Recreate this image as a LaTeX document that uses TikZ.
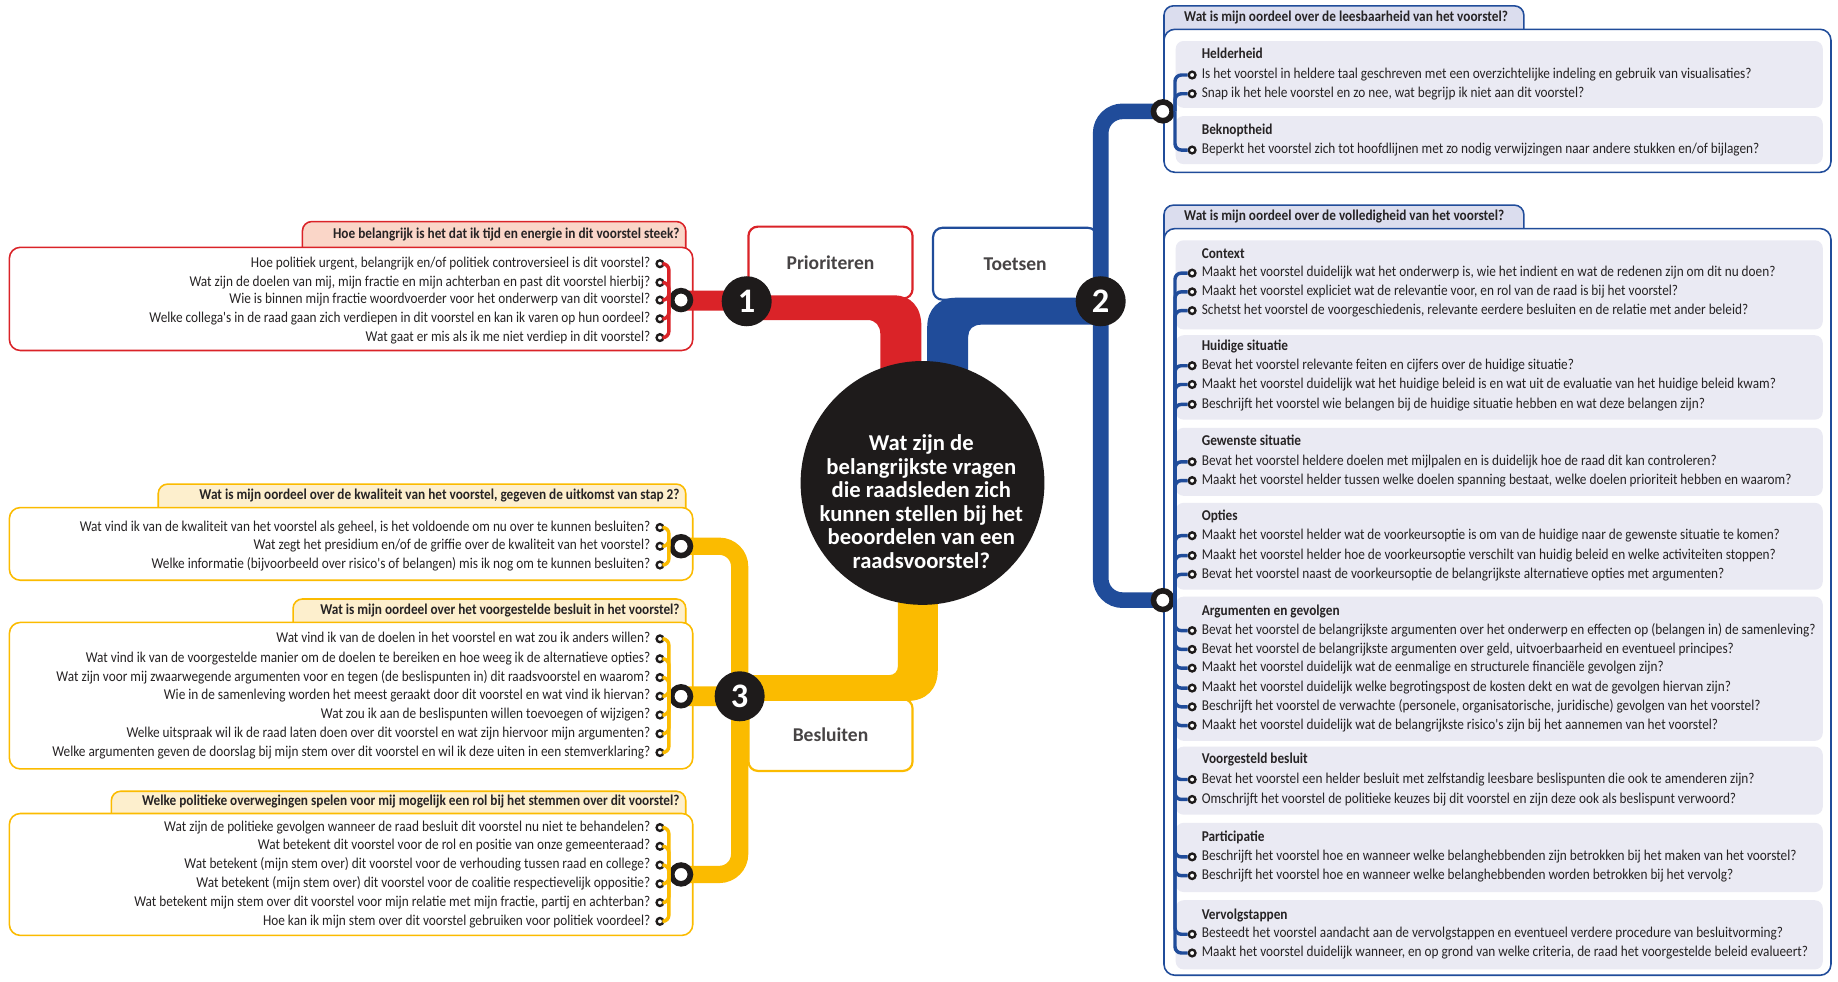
\documentclass[tikz,border=0pt]{standalone}
\usepackage{fontspec}
\setmainfont{Carlito}
\newfontfamily\smalfont[FakeStretch=0.885]{Carlito}
\usepackage{xcolor}

\definecolor{rood}{RGB}{218,35,40}
\definecolor{roodtab}{RGB}{250,214,200}
\definecolor{blauw}{RGB}{32,76,154}
\definecolor{blauwtab}{RGB}{219,221,238}
\definecolor{vakgrijs}{RGB}{234,234,243}
\definecolor{geel}{RGB}{251,187,0}
\definecolor{geeltab}{RGB}{253,239,205}
\definecolor{zwart}{RGB}{30,27,27}
\definecolor{tekst}{RGB}{38,35,36}

\tikzset{
  vraag/.style={inner sep=0pt, text height=6.7pt, text depth=2pt, text=tekst, font=\smalfont\fontsize{9.6}{10}\selectfont},
  kop/.style={vraag, font=\smalfont\bfseries\fontsize{9.6}{10}\selectfont},
  kopvak/.style={draw=#1, fill=#1tab, line width=1pt, rounded corners=6pt},
  kader/.style={draw=#1, fill=white, line width=1pt, rounded corners=7pt},
  subvak/.style={fill=vakgrijs, rounded corners=5pt},
  bol/.style={circle, draw=zwart, fill=white, line width=1.5pt, minimum size=4.3pt, inner sep=0pt},
  ring/.style={circle, draw=zwart, fill=white, line width=3.6pt, minimum size=12pt, inner sep=0pt},
  lijntje/.style={draw=#1, line width=2.2pt, rounded corners=4pt},
  nummer/.style={circle, fill=zwart, text=white, minimum size=32pt, inner sep=0pt, font=\bfseries\fontsize{22}{22}\selectfont},
  stap/.style={draw=#1, fill=white, line width=1.4pt, rounded corners=6pt, minimum width=105pt, minimum height=46pt, text=tekst!85, font=\bfseries\fontsize{12.5}{13}\selectfont},
}

\begin{document}
\begin{tikzpicture}[x=0.75pt,y=0.75pt,yscale=-1,xscale=1]
\useasboundingbox (0,0) rectangle (1568,837);

%Shape: Prioriteren vragen
\filldraw[kopvak=rood] (258,222) -- (258,189) -- (585,189) -- (585,222);
\draw[kader=rood] (8,211) rectangle (591,299);
% Text Node
\node[kop, anchor=east] (pkop) at (580,200) {Hoe belangrijk is het dat ik tijd en energie in dit voorstel steek?};
\foreach \y/\t [count=\i] in {
  225/{Hoe politiek urgent, belangrijk en/of politiek controversieel is dit voorstel?},
  241/{Wat zijn de doelen van mij, mijn fractie en mijn achterban en past dit voorstel hierbij?},
  256/{Wie is binnen mijn fractie woordvoerder voor het onderwerp van dit voorstel?},
  272/{Welke collega's in de raad gaan zich verdiepen in dit voorstel en kan ik varen op hun oordeel?},
  288/{Wat gaat er mis als ik me niet verdiep in dit voorstel?}}{
  \node[vraag, anchor=east] (p\i) at (555,\y) {\t};
  \node[bol] (pb\i) at (563,\y) {};
}

%Shape: Besluiten vragen, kwaliteit
\filldraw[kopvak=geel] (135,444) -- (135,413) -- (585,413) -- (585,444);
\draw[kader=geel] (8,433) rectangle (591,495);
\node[kop, anchor=east] (kkop) at (580,423) {Wat is mijn oordeel over de kwaliteit van het voorstel, gegeven de uitkomst van stap 2?};
\foreach \y/\t [count=\i] in {
  450/{Wat vind ik van de kwaliteit van het voorstel als geheel, is het voldoende om nu over te kunnen besluiten?},
  466/{Wat zegt het presidium en/of de griffie over de kwaliteit van het voorstel?},
  482/{Welke informatie (bijvoorbeeld over risico's of belangen) mis ik nog om te kunnen besluiten?}}{
  \node[vraag, anchor=east] (k\i) at (555,\y) {\t};
  \node[bol] (kb\i) at (563,\y) {};
}

%Shape: Besluiten vragen, voorgestelde besluit
\filldraw[kopvak=geel] (250,542) -- (250,511) -- (585,511) -- (585,542);
\draw[kader=geel] (8,531) rectangle (591,656);
\node[kop, anchor=east] (bkop) at (580,521) {Wat is mijn oordeel over het voorgestelde besluit in het voorstel?};
\foreach \y/\t [count=\i] in {
  545/{Wat vind ik van de doelen in het voorstel en wat zou ik anders willen?},
  562/{Wat vind ik van de voorgestelde manier om de doelen te bereiken en hoe weeg ik de alternatieve opties?},
  578/{Wat zijn voor mij zwaarwegende argumenten voor en tegen (de beslispunten in) dit raadsvoorstel en waarom?},
  594/{Wie in de samenleving worden het meest geraakt door dit voorstel en wat vind ik hiervan?},
  610/{Wat zou ik aan de beslispunten willen toevoegen of wijzigen?},
  626/{Welke uitspraak wil ik de raad laten doen over dit voorstel en wat zijn hiervoor mijn argumenten?},
  642/{Welke argumenten geven de doorslag bij mijn stem over dit voorstel en wil ik deze uiten in een stemverklaring?}}{
  \node[vraag, anchor=east] (b\i) at (555,\y) {\t};
  \node[bol] (bb\i) at (563,\y) {};
}

%Shape: Besluiten vragen, politiek
\filldraw[kopvak=geel] (95,705) -- (95,675) -- (585,675) -- (585,705);
\draw[kader=geel] (8,694) rectangle (591,798);
\node[kop, anchor=east] (okop) at (580,684) {Welke politieke overwegingen spelen voor mij mogelijk een rol bij het stemmen over dit voorstel?};
\foreach \y/\t [count=\i] in {
  706/{Wat zijn de politieke gevolgen wanneer de raad besluit dit voorstel nu niet te behandelen?},
  722/{Wat betekent dit voorstel voor de rol en positie van onze gemeenteraad?},
  738/{Wat betekent (mijn stem over) dit voorstel voor de verhouding tussen raad en college?},
  754/{Wat betekent (mijn stem over) dit voorstel voor de coalitie respectievelijk oppositie?},
  770/{Wat betekent mijn stem over dit voorstel voor mijn relatie met mijn fractie, partij en achterban?},
  786/{Hoe kan ik mijn stem over dit voorstel gebruiken voor politiek voordeel?}}{
  \node[vraag, anchor=east] (o\i) at (555,\y) {\t};
  \node[bol] (ob\i) at (563,\y) {};
}

%Shape: Toetsen, leesbaarheid
\filldraw[kopvak=blauw] (993,36) -- (993,5) -- (1300,5) -- (1300,36);
\draw[kader=blauw] (993,25) rectangle (1562,147);
\node[kop, anchor=west] (lkop) at (1010,15) {Wat is mijn oordeel over de leesbaarheid van het voorstel?};
\foreach \a/\b in {35/92, 99/140} \fill[subvak] (1003,\a) rectangle (1555,\b);
\foreach \y/\t [count=\i] in {47/Helderheid, 112/Beknoptheid}
  \node[kop, anchor=west] (lt\i) at (1025,\y) {\t};
\foreach \y/\t [count=\i] in {
  64/{Is het voorstel in heldere taal geschreven met een overzichtelijke indeling en gebruik van visualisaties?},
  80/{Snap ik het hele voorstel en zo nee, wat begrijp ik niet aan dit voorstel?},
  128/{Beperkt het voorstel zich tot hoofdlijnen met zo nodig verwijzingen naar andere stukken en/of bijlagen?}}{
  \node[vraag, anchor=west] (l\i) at (1025,\y) {\t};
  \node[bol] (lb\i) at (1017,\y) {};
}

%Shape: Toetsen, volledigheid
\filldraw[kopvak=blauw] (993,206) -- (993,175) -- (1300,175) -- (1300,206);
\draw[kader=blauw] (993,195) rectangle (1562,832);
\node[kop, anchor=west] (vkop) at (1010,185) {Wat is mijn oordeel over de volledigheid van het voorstel?};
\foreach \a/\b in {205/281, 286/358, 365/423, 429/503, 509/632, 637/695, 702/761, 768/827}
  \fill[subvak] (1003,\a) rectangle (1555,\b);
\foreach \y/\t [count=\i] in {217/Context, 296/{Huidige situatie}, 377/{Gewenste situatie}, 441/Opties,
  522/{Argumenten en gevolgen}, 648/{Voorgesteld besluit}, 715/Participatie, 781/Vervolgstappen}
  \node[kop, anchor=west] (vt\i) at (1025,\y) {\t};
\foreach \y/\t [count=\i] in {
  233/{Maakt het voorstel duidelijk wat het onderwerp is, wie het indient en wat de redenen zijn om dit nu doen?},
  249/{Maakt het voorstel expliciet wat de relevantie voor, en rol van de raad is bij het voorstel?},
  265/{Schetst het voorstel de voorgeschiedenis, relevante eerdere besluiten en de relatie met ander beleid?},
  312/{Bevat het voorstel relevante feiten en cijfers over de huidige situatie?},
  328/{Maakt het voorstel duidelijk wat het huidige beleid is en wat uit de evaluatie van het huidige beleid kwam?},
  345/{Beschrijft het voorstel wie belangen bij de huidige situatie hebben en wat deze belangen zijn?},
  394/{Bevat het voorstel heldere doelen met mijlpalen en is duidelijk hoe de raad dit kan controleren?},
  410/{Maakt het voorstel helder tussen welke doelen spanning bestaat, welke doelen prioriteit hebben en waarom?},
  457/{Maakt het voorstel helder wat de voorkeursoptie is om van de huidige naar de gewenste situatie te komen?},
  474/{Maakt het voorstel helder hoe de voorkeursoptie verschilt van huidig beleid en welke activiteiten stoppen?},
  490/{Bevat het voorstel naast de voorkeursoptie de belangrijkste alternatieve opties met argumenten?},
  538/{Bevat het voorstel de belangrijkste argumenten over het onderwerp en effecten op (belangen in) de samenleving?},
  554/{Bevat het voorstel de belangrijkste argumenten over geld, uitvoerbaarheid en eventueel principes?},
  570/{Maakt het voorstel duidelijk wat de eenmalige en structurele financiële gevolgen zijn?},
  587/{Maakt het voorstel duidelijk welke begrotingspost de kosten dekt en wat de gevolgen hiervan zijn?},
  603/{Beschrijft het voorstel de verwachte (personele, organisatorische, juridische) gevolgen van het voorstel?},
  619/{Maakt het voorstel duidelijk wat de belangrijkste risico's zijn bij het aannemen van het voorstel?},
  665/{Bevat het voorstel een helder besluit met zelfstandig leesbare beslispunten die ook te amenderen zijn?},
  682/{Omschrijft het voorstel de politieke keuzes bij dit voorstel en zijn deze ook als beslispunt verwoord?},
  731/{Beschrijft het voorstel hoe en wanneer welke belanghebbenden zijn betrokken bij het maken van het voorstel?},
  747/{Beschrijft het voorstel hoe en wanneer welke belanghebbenden worden betrokken bij het vervolg?},
  797/{Besteedt het voorstel aandacht aan de vervolgstappen en eventueel verdere procedure van besluitvorming?},
  813/{Maakt het voorstel duidelijk wanneer, en op grond van welke criteria, de raad het voorgestelde beleid evalueert?}}{
  \node[vraag, anchor=west] (v\i) at (1025,\y) {\t};
  \node[bol] (vb\i) at (1017,\y) {};
}

% Step boxes
\node[stap=rood] (prio) at (708.5,224) {Prioriteren};
\node[stap=blauw] (toets) at (866,225) {Toetsen};
\node[stap=geel] (besl) at (708.5,627) {Besluiten};

% Ring positions
\coordinate (rr) at (581,256);
\coordinate (gk) at (581,466);
\coordinate (gb) at (581,594);
\coordinate (go) at (581,746);
\coordinate (bl) at (992,95);
\coordinate (bv) at (992,512);

%Shape: thick bands to the centre
\fill[rood] (581,248) -- (637,248) -- (637,252) -- (763,252) .. controls (777,252) and (786,262) .. (786,278) -- (786,350) -- (751,350) -- (751,285) .. controls (751,278) and (747,273) .. (740,273) -- (637,273) -- (637,265) -- (581,265) -- cycle;
\fill[blauw] (939,254) -- (815,254) .. controls (801,254) and (791,264) .. (791,279) -- (791,350) -- (826,350) -- (826,287) .. controls (826,281) and (830,277) .. (837,277) -- (939,277) -- cycle;
\fill[geel] (581,602.5) -- (631,602.5) -- (631,598) -- (774,598) .. controls (790,598) and (800,588) .. (800,572) -- (800,480) -- (766,480) -- (766,568) .. controls (766,573) and (763,576) .. (758,576) -- (631,576) -- (631,585.5) -- (581,585.5) -- cycle;

%Straight Lines: thin lines
\draw[blauw, line width=10pt, rounded corners=14pt] (bl) -- (939,95) -- (939,512) -- (bv);
\draw[geel, line width=11pt, rounded corners=13pt] (gk) -- (631,466) -- (631,746) -- (go);

% Rings
\node[ring] (rring) at (rr) {};
\node[ring] (kring) at (gk) {};
\node[ring] (bring) at (gb) {};
\node[ring] (oring) at (go) {};
\node[ring] (lring) at (bl) {};
\node[ring] (vring) at (bv) {};

% Connectors
\foreach \i in {1,...,5} \draw[lijntje=rood] (pb\i.east) -| (rring.west);
\foreach \i in {1,...,3} \draw[lijntje=geel] (kb\i.east) -| (kring.west);
\foreach \i in {1,...,7} \draw[lijntje=geel] (bb\i.east) -| (bring.west);
\foreach \i in {1,...,6} \draw[lijntje=geel] (ob\i.east) -| (oring.west);
\foreach \i in {1,...,3} \draw[lijntje=blauw] (lb\i.west) -| (lring.east);
\foreach \i in {1,...,23} \draw[lijntje=blauw] (vb\i.west) -| (vring.east);

% Numbers
\node[nummer] (n1) at (637,257) {1};
\node[nummer] (n2) at (939,257) {2};
\node[nummer] (n3) at (631,594) {3};

% Centre
\node[circle, fill=zwart, minimum size=156pt, inner sep=0pt] (kern) at (787,412) {};
\node[align=center, text=white, font=\bfseries\fontsize{14.5}{15}\selectfont] (kernvraag) at (786,428)
  {Wat zijn de\\belangrijkste vragen\\die raadsleden zich\\kunnen stellen bij het\\beoordelen van een\\raadsvoorstel?};

\end{tikzpicture}
\end{document}
